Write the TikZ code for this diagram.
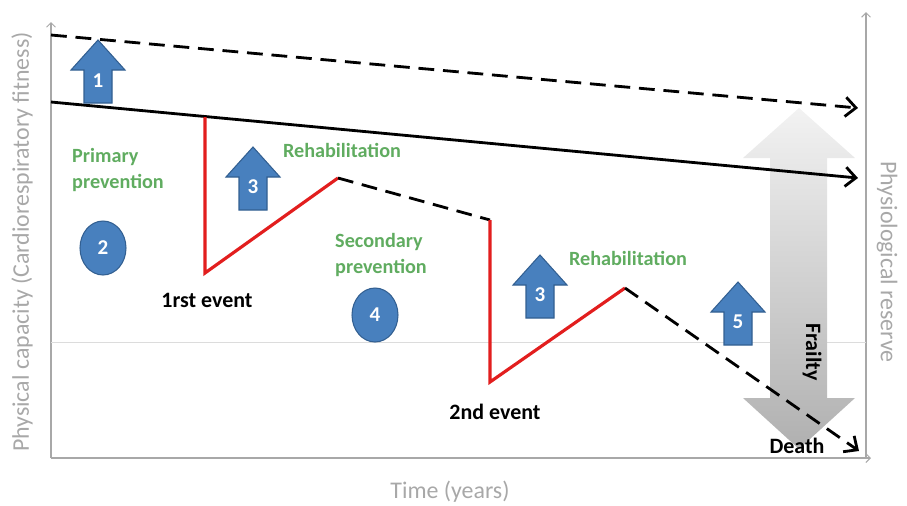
\documentclass[tikz,border=0pt]{standalone}
\usepackage{fontspec}
\setmainfont{Carlito}
\usetikzlibrary{arrows.meta,shapes.geometric}

\definecolor{capblue}{RGB}{72,128,190}
\definecolor{capedge}{RGB}{50,95,145}
\definecolor{capgreen}{RGB}{96,172,96}
\definecolor{eventred}{RGB}{226,30,30}
\definecolor{axisgray}{RGB}{168,168,168}

\tikzset{
  uparrow/.pic={
    \draw[fill=capblue, draw=capedge, line width=0.6pt]
      (-14,0) -- (-14,-33) -- (-27,-33) -- (0,-63) -- (27,-33) -- (14,-33) -- (14,0) -- cycle;
  }
}

\begin{document}
\begin{tikzpicture}[x=0.02cm, y=-0.02cm,
  axis/.style={draw=axisgray, line width=0.6pt},
  trend/.style={draw=black, line width=1.6pt},
  dashtrend/.style={trend, dash pattern=on 9pt off 5pt},
  tip/.style={-{Straight Barb[length=6pt,width=11pt]}},
  fall/.style={draw=eventred, line width=1.8pt, line join=miter},
  prevtext/.style={text=capgreen, font=\bfseries\fontsize{11.5}{14.5}\selectfont, align=left},
  eventtext/.style={font=\bfseries\fontsize{12.5}{14}\selectfont},
  axistext/.style={text=axisgray, font=\fontsize{13.6}{15}\selectfont},
  num/.style={text=white, font=\bfseries\fontsize{12}{12}\selectfont, inner sep=0pt},
  stage/.style={ellipse, fill=capblue, draw=capedge, line width=0.6pt, minimum width=0.92cm, minimum height=1.08cm, inner sep=0pt, text=white, font=\bfseries\fontsize{12}{12}\selectfont}
]
\useasboundingbox (0,0) rectangle (907,505);

% Axes
\coordinate (origin) at (51,458);
\coordinate (ytop) at (51,22);
\coordinate (xend) at (871,458);
\coordinate (rbase) at (866,458);
\coordinate (rtop) at (866,12);
\draw[axis, -{Straight Barb[length=2.5pt,width=5pt]}] (origin) -- (ytop);
\draw[axis, -{Straight Barb[length=2.5pt,width=5pt]}] (origin) -- (xend);
\draw[axis, -{Straight Barb[length=2.5pt,width=5pt]}] (rbase) -- (rtop);
\coordinate (midl) at (51,342);
\coordinate (midr) at (866,342);
\draw[draw=axisgray!40, line width=0.5pt] (midl) -- (midr);

\node[axistext, rotate=90] (ylab) at (22,242) {Physical capacity (Cardiorespiratory fitness)};
\node[axistext, rotate=-90] (rlab) at (887,262) {Physiological reserve};
\node[axistext] (xlab) at (450,492) {Time (years)};

% Frailty arrow
\shade[top color=gray!10, bottom color=gray!62]
  (799,108) -- (855,158) -- (827,158) -- (827,398) -- (855,398) -- (799,449)
  -- (743,398) -- (770,398) -- (770,158) -- (743,158) -- cycle;
\node[eventtext, rotate=-90] (frail) at (812,352) {Frailty};

% Trends
\coordinate (dstart) at (51,35);
\coordinate (dend) at (858,108);
\coordinate (sstart) at (51,102);
\coordinate (send) at (858,178);
\draw[dashtrend, tip] (dstart) -- (dend);
\draw[trend, tip] (sstart) -- (send);

% Events
\coordinate (ev1top) at (205,117);
\coordinate (ev1low) at (205,273);
\coordinate (reh1) at (338,178);
\coordinate (ev2top) at (490,220);
\coordinate (ev2low) at (490,382);
\coordinate (reh2) at (625,288);
\coordinate (death) at (859,451);
\draw[fall] (ev1top) -- (ev1low) -- (reh1);
\draw[dashtrend] (reh1) -- (ev2top);
\draw[fall] (ev2top) -- (ev2low) -- (reh2);
\draw[dashtrend, tip] (reh2) -- (death);

% Arrows 1, 3, 3, 5
\pic at (98,103) {uparrow};
\node[num] (arr1) at (98,81) {1};
\pic at (253,210) {uparrow};
\node[num] (arr3a) at (253,187) {3};
\pic at (540,318) {uparrow};
\node[num] (arr3b) at (540,295) {3};
\pic at (738,345) {uparrow};
\node[num] (arr5) at (738,322) {5};

% Stages 2, 4
\node[stage] (prev2) at (103,248) {2};
\node[stage] (prev4) at (375,315) {4};

% Labels
\node[prevtext, anchor=west] (primary) at (66,170) {Primary\\prevention};
\node[prevtext, anchor=west] (secondary) at (329,255) {Secondary\\prevention};
\node[prevtext] (rehab1) at (342,150) {Rehabilitation};
\node[prevtext] (rehab2) at (628,258) {Rehabilitation};
\node[eventtext] (event1) at (207,300) {1rst event};
\node[eventtext] (event2) at (495,412) {2nd event};
\node[eventtext] (dead) at (797,446) {Death};

\end{tikzpicture}
\end{document}
